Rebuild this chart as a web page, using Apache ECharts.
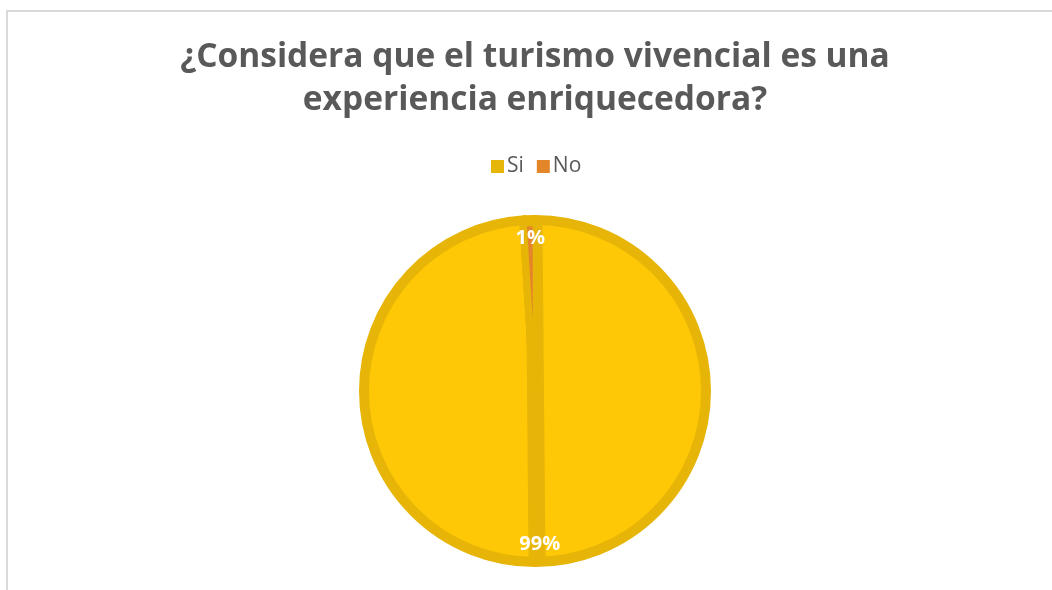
<!DOCTYPE html>
<html>
<head>
<meta charset="utf-8">
<script src="https://cdn.jsdelivr.net/npm/echarts@6/dist/echarts.min.js"></script>
<style>
  html, body { margin: 0; padding: 0; background: #fff; overflow: hidden; }
  #chart { width: 1052px; height: 590px; }
  .frame {
    position: absolute; left: 6px; top: 10px;
    width: 1100px; height: 700px;
    border: 2px solid #d9d9d9; box-sizing: border-box;
    pointer-events: none;
  }
</style>
</head>
<body>
<div id="chart"></div>
<div class="frame"></div>
<script>
// datos de la encuesta
const categories = ["Si", "No"];
const values = [99, 1];
const labels = ["99%", "1%"];

const colors = ["#FFC806", "#E5852A"];
const swatch = ["#E6B609", "#E3862A"];
const edge = "#E6B507";

const cx = 535, cy = 391, r = 176;

const myChart = echarts.init(document.getElementById("chart"));

const option = {
  animation: false,
  title: {
    text: "¿Considera que el turismo vivencial es una\nexperiencia enriquecedora?",
    left: 530,
    top: 31,
    textAlign: "center",
    textStyle: {
      fontFamily: "Open Sans",
      fontSize: 33.5,
      fontWeight: "bold",
      color: "#595959",
      lineHeight: 43,
    },
  },
  legend: {
    data: categories.map((name, i) => ({
      name: name,
      itemStyle: { color: swatch[i], borderWidth: 0 },
    })),
    top: 151,
    left: 486,
    icon: "rect",
    itemWidth: 13,
    itemHeight: 13,
    itemGap: 13,
    textStyle: { fontFamily: "Open Sans", fontSize: 21, color: "#595959", padding: [0, 0, 0, -2] },
  },
  graphic: [
    {
      type: "line",
      z: 5,
      silent: true,
      shape: { x1: cx - 1, y1: cy - r + 8, x2: cx + 2, y2: cy + r - 8 },
      style: { stroke: edge, lineWidth: 17 },
    },
  ],
  series: [
    {
      type: "pie",
      center: [cx, cy],
      radius: r - 5,
      startAngle: 90,
      clockwise: true,
      silent: true,
      label: { show: false },
      labelLine: { show: false },
      itemStyle: { borderColor: edge, borderWidth: 10 },
      data: categories.map((name, i) => ({
        name: name,
        value: values[i],
        itemStyle: { color: colors[i] },
      })),
    },
    {
      // la porción "No" por encima de la franja
      type: "pie",
      z: 6,
      center: [cx, cy],
      radius: r - 9,
      startAngle: 90,
      clockwise: true,
      silent: true,
      label: { show: false },
      labelLine: { show: false },
      data: categories.map((name, i) => ({
        name: name,
        value: values[i],
        itemStyle: i === 0
          ? { color: "transparent", borderWidth: 0 }
          : { color: colors[i], borderColor: edge, borderWidth: 4.5 },
      })),
    },
    {
      // solo etiquetas
      type: "pie",
      z: 10,
      center: [cx, cy],
      radius: [124, r],
      startAngle: 90,
      clockwise: true,
      silent: true,
      itemStyle: { color: "transparent", borderWidth: 0 },
      label: {
        show: true,
        position: "inside",
        formatter: (p) => labels[p.dataIndex],
        color: "#fff",
        fontFamily: "Open Sans",
        fontWeight: "bold",
        fontSize: 20,
      },
      labelLine: { show: false },
      data: categories.map((name, i) => ({ name: name, value: values[i] })),
    },
  ],
};

myChart.setOption(option);
</script>
</body>
</html>
